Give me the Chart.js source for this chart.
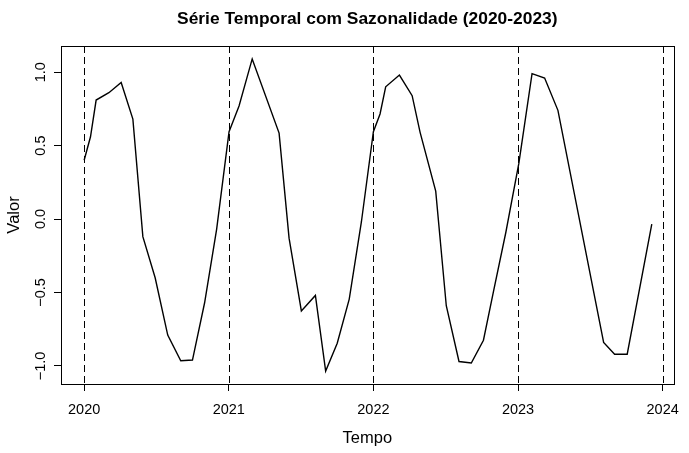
<!DOCTYPE html>
<html>
<head>
<meta charset="utf-8">
<script src="https://cdn.jsdelivr.net/npm/chart.js@4.4.1/dist/chart.umd.min.js"></script>
<style>
  html, body { margin: 0; padding: 0; background: #fff; }
</style>
</head>
<body>
<canvas id="serieChart" width="689" height="453"></canvas>
<script>
// Série temporal (tempo em anos decimais)
const tempo = [2020.000, 2020.044, 2020.083, 2020.171, 2020.256, 2020.337, 2020.406, 2020.491,
               2020.578, 2020.668, 2020.749, 2020.833, 2020.916, 2021.002, 2021.071, 2021.162,
               2021.348, 2021.417, 2021.502, 2021.599, 2021.670, 2021.750, 2021.833, 2021.917,
               2022.000, 2022.046, 2022.085, 2022.180, 2022.268, 2022.323, 2022.431, 2022.504,
               2022.592, 2022.677, 2022.761, 2022.833, 2022.916, 2023.006, 2023.097, 2023.184,
               2023.276, 2023.592, 2023.668, 2023.755, 2023.925];
const valor = [0.40, 0.56, 0.81, 0.86, 0.93, 0.68, -0.12, -0.40,
               -0.79, -0.965, -0.96, -0.57, -0.07, 0.595, 0.77, 1.09,
               0.585, -0.13, -0.625, -0.52, -1.035, -0.845, -0.545, -0.02,
               0.595, 0.715, 0.90, 0.98, 0.84, 0.59, 0.19, -0.59,
               -0.97, -0.98, -0.825, -0.48, -0.09, 0.38, 0.99, 0.96,
               0.74, -0.84, -0.92, -0.92, -0.035];

// Eixos
const anos = [2020, 2021, 2022, 2023, 2024];
const yTicks = [-1, -0.5, 0, 0.5, 1];
const yTickLabels = ['\u22121.0', '\u22120.5', '0.0', '0.5', '1.0'];

const FONT = '"Liberation Sans", Arial, Helvetica, sans-serif';

// Linhas verticais tracejadas, moldura, rótulos do eixo y e título
const moldura = {
    id: 'moldura',
    afterDatasetsDraw(chart) {
        const { ctx, chartArea: a, scales: { x, y } } = chart;
        ctx.save();
        ctx.strokeStyle = '#000';
        ctx.lineWidth = 1;
        ctx.setLineDash([7, 4]);
        anos.forEach(ano => {
            const px = Math.round(x.getPixelForValue(ano)) + 0.5;
            ctx.beginPath();
            ctx.moveTo(px, a.top);
            ctx.lineTo(px, a.bottom);
            ctx.stroke();
        });
        ctx.setLineDash([]);
        ctx.strokeRect(Math.round(a.left) + 0.5, Math.round(a.top) + 0.5,
                       Math.round(a.right - a.left), Math.round(a.bottom - a.top));

        // rótulos do eixo y, girados como no R
        ctx.fillStyle = '#000';
        ctx.font = '14.5px ' + FONT;
        ctx.textAlign = 'center';
        ctx.textBaseline = 'middle';
        yTicks.forEach((v, i) => {
            ctx.save();
            ctx.translate(40.5, y.getPixelForValue(v));
            ctx.rotate(-Math.PI / 2);
            ctx.fillText(yTickLabels[i], 0, 0);
            ctx.restore();
        });

        // título
        ctx.font = 'bold 17.4px ' + FONT;
        ctx.fillText('Série Temporal com Sazonalidade (2020-2023)', (a.left + a.right) / 2, 19.5);
        ctx.restore();
    }
};

const ctx = document.getElementById('serieChart').getContext('2d');
new Chart(ctx, {
    type: 'scatter',
    data: {
        datasets: [{
            label: 'Valor',
            data: tempo.map((t, i) => ({ x: t, y: valor[i] })),
            showLine: true,
            borderColor: '#000',
            borderWidth: 1.4,
            pointRadius: 0,
            tension: 0
        }]
    },
    options: {
        responsive: false,
        animation: false,
        layout: { padding: { top: 46, right: 13, left: 0, bottom: 0 } },
        plugins: {
            legend: { display: false },
            tooltip: { enabled: false }
        },
        scales: {
            x: {
                type: 'linear',
                min: 2019.84,
                max: 2024.076,
                afterBuildTicks: s => { s.ticks = anos.map(v => ({ value: v })); },
                afterFit: s => { s.height = 69; },
                border: { display: false },
                grid: { drawOnChartArea: false, drawTicks: true, tickLength: 7, tickColor: '#000' },
                ticks: {
                    color: '#000',
                    padding: 10,
                    font: { family: FONT, size: 14.5 },
                    callback: v => String(v)
                },
                title: {
                    display: true,
                    text: 'Tempo',
                    color: '#000',
                    font: { family: FONT, size: 16.5 },
                    padding: { top: 0, bottom: 5 }
                }
            },
            y: {
                type: 'linear',
                min: -1.123,
                max: 1.178,
                afterBuildTicks: s => { s.ticks = yTicks.map(v => ({ value: v })); },
                afterFit: s => { s.width = 61; },
                border: { display: false },
                grid: { drawOnChartArea: false, drawTicks: true, tickLength: 7, tickColor: '#000' },
                ticks: { display: false },
                title: {
                    display: true,
                    text: 'Valor',
                    color: '#000',
                    font: { family: FONT, size: 16.5 },
                    padding: { top: 5, bottom: 0 }
                }
            }
        }
    },
    plugins: [moldura]
});
</script>
</body>
</html>
